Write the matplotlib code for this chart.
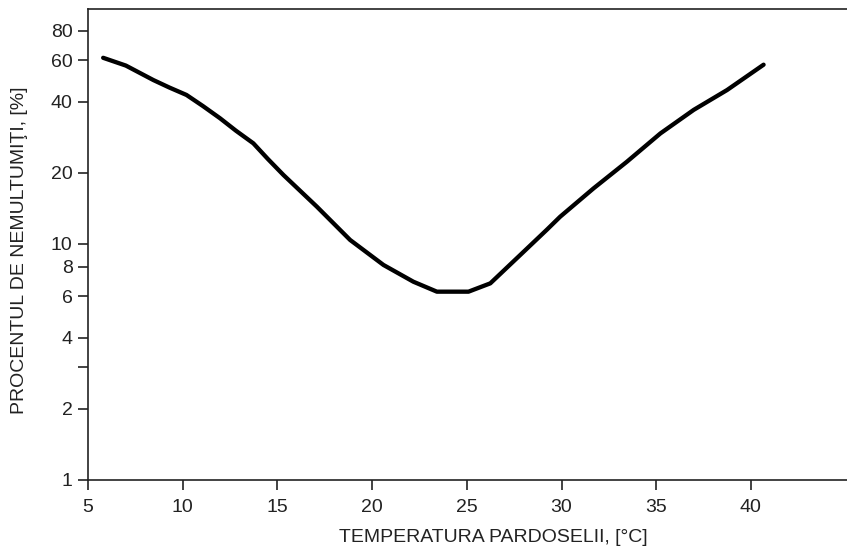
import matplotlib
matplotlib.use("Agg")
import matplotlib.pyplot as plt
from matplotlib.ticker import FixedLocator, NullLocator, NullFormatter

# Data
temperature = [5.8, 7.0, 8.45, 9.3, 10.2, 11.07, 11.97, 12.81, 13.73, 14.5, 15.32,
               17.08, 18.84, 20.6, 22.18, 23.42, 25.09, 26.24, 27.82, 29.23,
               29.93, 31.69, 33.45, 35.22, 36.98, 38.74, 40.67]
dissatisfied = [61.5, 57.0, 49.5, 46.0, 42.8, 38.4, 34.1, 30.2, 26.7, 22.9, 19.6,
                14.4, 10.4, 8.15, 6.92, 6.28, 6.28, 6.81, 8.98, 11.5,
                13.05, 17.2, 22.3, 29.4, 37.0, 44.9, 57.5]

x_ticks = [5, 10, 15, 20, 25, 30, 35, 40]
y_ticks = [1, 2, 3, 4, 6, 8, 10, 20, 40, 60, 80]
y_tick_labels = ["1", "2", "", "4", "6", "8", "10", "20", "40", "60", "80"]

plt.rcParams['font.family'] = ['Liberation Sans', 'DejaVu Sans']

W, H = 847, 552
fig = plt.figure(figsize=(W / 100, H / 100), dpi=100)
left, right, top, bottom = 88, 847, 9, 480
ax = fig.add_axes([left / W, 1 - bottom / H, (right - left) / W, (bottom - top) / H])

ax.plot(temperature, dissatisfied, color="black", lw=3.1, solid_capstyle="round",
        solid_joinstyle="round")

ax.set_yscale("log")
ax.set_xlim(5, 5 + (right - left) / 18.94)
ax.set_ylim(1, 99)

ax.set_xticks(x_ticks)
ax.set_xticklabels([str(v) for v in x_ticks])
ax.yaxis.set_major_locator(FixedLocator(y_ticks))
ax.set_yticklabels(y_tick_labels)
ax.yaxis.set_minor_locator(NullLocator())
ax.yaxis.set_minor_formatter(NullFormatter())

ax.spines["right"].set_visible(False)
for s in ["left", "bottom", "top"]:
    ax.spines[s].set_linewidth(1.2)
    ax.spines[s].set_color("#222222")

ax.tick_params(axis="both", which="major", direction="out", length=7.5, width=1.2,
               color="#222222", labelsize=14, labelcolor="#222222", pad=3.5)
ax.tick_params(axis="x", pad=6.0)

fig.text(493 / W, 1 - 538 / H, "TEMPERATURA PARDOSELII, [°C]", ha="center", va="center",
         fontsize=14, color="#222222")
fig.text(20 / W, 1 - 250 / H, "PROCENTUL DE NEMULTUMIŢI, [%]", ha="center", va="center",
         rotation=90, fontsize=14, color="#222222")

fig.savefig("out.png", dpi=100)
